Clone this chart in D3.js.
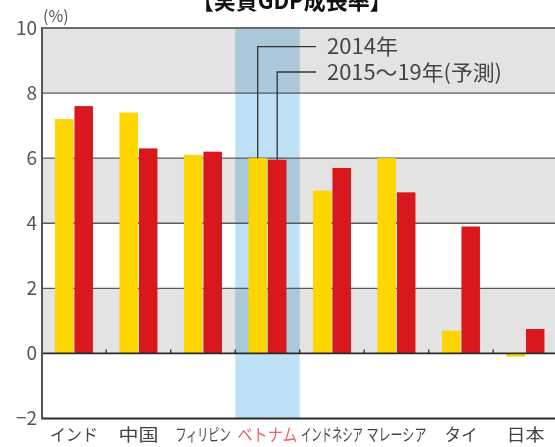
<!DOCTYPE html>
<html><head><meta charset="utf-8">
<script src="https://cdn.jsdelivr.net/npm/d3@7"></script>
<style>body{margin:0;background:#fff;}svg{display:block;}text{font-family:"Noto Sans CJK JP","Noto Sans",sans-serif;}</style>
</head><body>
<script>
const categories = ["インド","中国","フィリピン","ベトナム","インドネシア","マレーシア","タイ","日本"];
const labelWidths = [48, 40, 55, 60, 62, 60, 33, 38];
const growth2014 = [7.2, 7.4, 6.1, 6.0, 5.0, 6.0, 0.7, -0.1];
const growth2015_19 = [7.6, 6.3, 6.2, 5.95, 5.7, 4.95, 3.9, 0.75];
const yTicks = [10, 8, 6, 4, 2, 0, -2];
const seriesNames = ["2014年", "2015〜19年(予測)"];
const title = "【実質GDP成長率】";
const highlight = "ベトナム";

const W = 555, H = 447;
const svg = d3.select("body").append("svg").attr("width", W).attr("height", H);

const x = d3.scaleBand().domain(categories).range([41.7, 41.7 + 8 * 64.5]).padding(0);
const y = d3.scaleLinear().domain([-2, 10]).range([418.5, 28]);
const left = 42, right = 560;

// title (cut off at top)
svg.append("text").attr("x", 291.7).attr("y", 9).attr("text-anchor", "middle")
  .attr("font-size", 24).attr("font-weight", "bold").attr("fill", "#111")
  .attr("textLength", 200).attr("lengthAdjust", "spacingAndGlyphs").text(title);

// grey bands
[[10, 8], [6, 4], [2, 0]].forEach(([a, b]) => {
  svg.append("rect").attr("x", left).attr("y", y(a)).attr("width", right - left)
    .attr("height", y(b) - y(a)).attr("fill", "#e3e3e3");
});

// highlight column
svg.append("rect").attr("x", x(highlight)).attr("y", y(10)).attr("width", x.bandwidth())
  .attr("height", y(-2) - y(10)).attr("fill", "#bfe1f5").style("mix-blend-mode", "multiply");

// grid lines
[8, 6, 4, 2].forEach(v => {
  svg.append("line").attr("x1", left).attr("x2", right).attr("y1", y(v)).attr("y2", y(v))
    .attr("stroke", "#5a5a5a").attr("stroke-width", 1.3);
});

// bars
const bw = 18.5;
const g = svg.append("g");
categories.forEach((c, i) => {
  const cx = x(c) + x.bandwidth() / 2;
  const v1 = growth2014[i], v2 = growth2015_19[i];
  g.append("rect").attr("x", cx - bw - 0.5).attr("width", bw)
    .attr("y", y(Math.max(0, v1))).attr("height", Math.abs(y(v1) - y(0))).attr("fill", "#ffd500");
  g.append("rect").attr("x", cx + 0.5).attr("width", bw)
    .attr("y", y(Math.max(0, v2))).attr("height", Math.abs(y(v2) - y(0))).attr("fill", "#d8181c");
});

// top border, zero line, bottom axis
svg.append("line").attr("x1", left).attr("x2", right).attr("y1", y(10)).attr("y2", y(10))
  .attr("stroke", "#6a6a6a").attr("stroke-width", 2.2);
svg.append("line").attr("x1", left).attr("x2", right).attr("y1", y(0)).attr("y2", y(0))
  .attr("stroke", "#2a2a2a").attr("stroke-width", 1.8);
svg.append("line").attr("x1", left).attr("x2", right).attr("y1", y(-2)).attr("y2", y(-2))
  .attr("stroke", "#2a2a2a").attr("stroke-width", 2);
// ticks on zero line
categories.slice(1).forEach(c => {
  svg.append("line").attr("x1", x(c)).attr("x2", x(c)).attr("y1", y(0)).attr("y2", y(0) - 4)
    .attr("stroke", "#2a2a2a").attr("stroke-width", 1.3);
});
// y axis line
svg.append("line").attr("x1", left).attr("x2", left).attr("y1", y(10) - 1).attr("y2", y(-2) + 1)
  .attr("stroke", "#555").attr("stroke-width", 2);

// y tick labels
yTicks.forEach(v => {
  svg.append("text").attr("x", 37).attr("y", y(v)).attr("dy", "0.36em")
    .attr("text-anchor", "end").attr("font-size", 19).attr("fill", "#555")
    .text(v < 0 ? "−" + Math.abs(v) : v);
});
svg.append("text").attr("x", 43).attr("y", 22).attr("font-size", 16).attr("fill", "#555").text("(%)");

// category labels
categories.forEach((c, i) => {
  svg.append("text").attr("x", x(c) + x.bandwidth() / 2).attr("y", 441)
    .attr("text-anchor", "middle").attr("font-size", 17)
    .attr("fill", c === highlight ? "#e8626b" : "#444")
    .attr("textLength", labelWidths[i]).attr("lengthAdjust", "spacingAndGlyphs").text(c);
});

// legend leader lines
const vi = categories.indexOf(highlight);
const vcx = x(highlight) + x.bandwidth() / 2;
const legendY = [46.7, 72];
const barX = [vcx - bw / 2 - 0.5, vcx + bw / 2 + 0.5];
const barTop = [y(growth2014[vi]), y(growth2015_19[vi])];
const legendW = [71, 175];
[0, 1].forEach(k => {
  svg.append("path").attr("d", `M${barX[k]},${barTop[k]}V${legendY[k]}H316`)
    .attr("fill", "none").attr("stroke", "#333").attr("stroke-width", 1.3);
  svg.append("text").attr("x", 327).attr("y", legendY[k]).attr("dy", "0.36em")
    .attr("font-size", 21).attr("fill", "#444")
    .attr("textLength", legendW[k]).attr("lengthAdjust", "spacingAndGlyphs").text(seriesNames[k]);
});
</script>
</body></html>
